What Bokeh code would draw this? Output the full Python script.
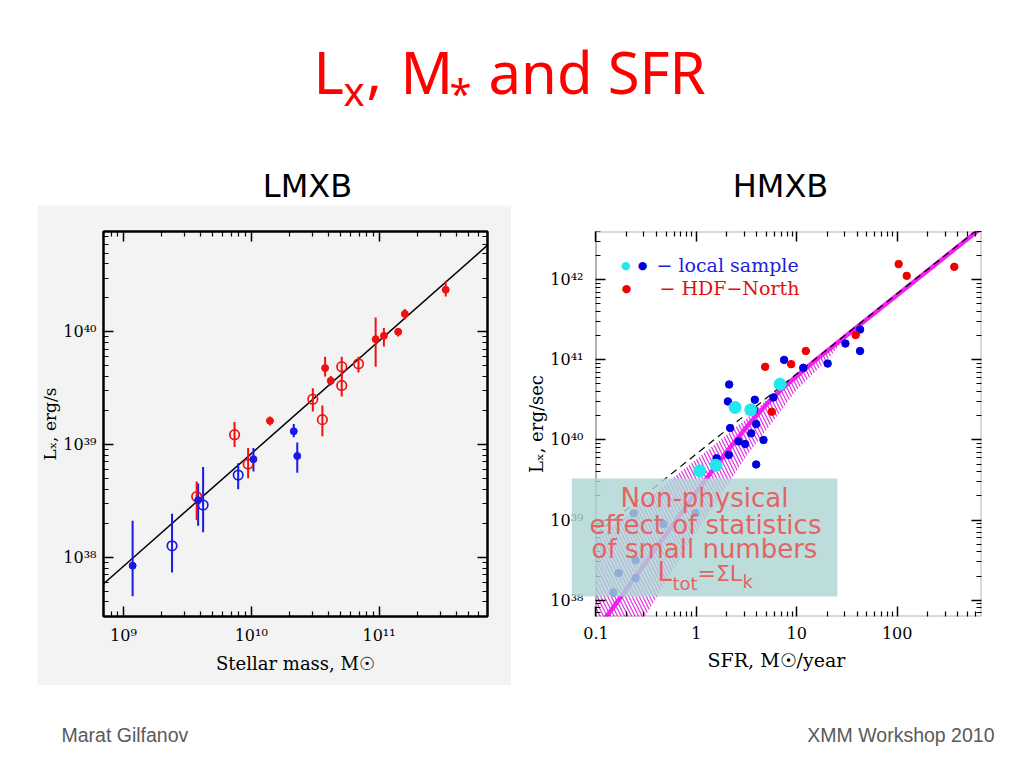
from bokeh.plotting import figure
from bokeh.models import (Range1d, FixedTicker, CustomJSTickFormatter, LogAxis,
                          Label, BoxAnnotation, Spacer)
from bokeh.layouts import column, row
from bokeh.embed import file_html
from bokeh.resources import INLINE

# ---------------- LMXB data (left panel) ----------------
# blue filled
bf_mass = [1.18e9, 3.84e9, 1.04e10, 2.15e10, 2.29e10]
bf_lx = [8.4e37, 3.2e38, 7.4e38, 1.31e39, 7.9e38]
bf_hi = [2.1e38, 4.5e38, 9.3e38, 1.52e39, 1.04e39]
bf_lo = [4.5e37, 1.9e38, 5.75e38, 1.16e39, 5.6e38]
# blue open
bo_mass = [2.4e9, 4.2e9, 7.9e9]
bo_lx = [1.26e38, 2.9e38, 5.35e38]
bo_hi = [2.43e38, 6.3e38, 6.8e38]
bo_lo = [7.3e37, 1.66e38, 4.0e38]
# red open
ro_mass = [3.74e9, 7.4e9, 9.45e9, 3.03e10, 3.6e10, 5.1e10, 5.1e10, 6.9e10]
ro_lx = [3.45e38, 1.22e39, 6.7e38, 2.52e39, 1.66e39, 4.9e39, 3.34e39, 5.2e39]
ro_hi = [4.7e38, 1.58e39, 9.3e38, 3.16e39, 2.22e39, 6.0e39, 4.15e39, 6.0e39]
ro_lo = [2.14e38, 9.5e38, 5.0e38, 1.96e39, 1.18e39, 4.0e39, 2.67e39, 4.35e39]
# red filled
rf_mass = [1.4e10, 3.78e10, 4.19e10, 9.4e10, 1.09e11, 1.41e11, 1.59e11, 3.32e11]
rf_lx = [1.62e39, 4.76e39, 3.67e39, 8.6e39, 9.2e39, 1.0e40, 1.44e40, 2.36e40]
rf_hi = [1.77e39, 6.0e39, 4.06e39, 1.34e40, 1.08e40, 1.08e40, 1.59e40, 2.84e40]
rf_lo = [1.47e39, 4.0e39, 3.34e39, 4.9e39, 7.4e39, 9.1e39, 1.29e40, 2.06e40]
# linear fit
fit_mass = [7.0e8, 7.1e11]
fit_lx = [5.8e37, 5.9e40]

# ---------------- HMXB data (right panel) ----------------
blue_sfr = [2.12, 2.06, 2.17, 2.10, 1.59, 2.63, 3.06, 3.52, 3.82, 3.76, 3.94, 3.94,
            4.66, 5.86, 7.48, 11.6, 20.3, 30.5, 42.7, 42.7,
            0.237, 0.471, 0.98, 0.248, 0.248, 0.168, 0.149]
blue_lx = [4.93e40, 3.03e40, 1.41e40, 6.5e39, 5.9e39, 9.6e39, 8.9e39, 1.21e40, 3.18e40,
           2.38e40, 1.58e40, 4.95e39, 1.0e40, 3.4e40, 1.0e41, 7.96e40, 9.0e40, 1.6e41,
           2.4e41, 1.29e41,
           1.22e39, 8.9e38, 1.22e39, 3.16e38, 1.88e38, 2.18e38, 1.25e38]
cyan_sfr = [1.08, 1.57, 2.43, 3.48, 6.82]
cyan_lx = [4.12e39, 4.85e39, 2.55e40, 2.38e40, 4.98e40]
red_sfr = [4.84, 5.64, 8.79, 12.3, 38.6, 103.5, 124.5, 370.7]
red_lx = [8.2e40, 2.25e40, 8.85e40, 1.29e41, 2.04e41, 1.57e42, 1.12e42, 1.45e42]
# linear relation (dashed)
lin_sfr = [0.1, 700.0]
lin_lx = [6.7e38, 4.69e42]
# non-linear expected relation (magenta)
curve_sfr = [0.112, 0.316, 1.0, 2.0, 3.16, 5.0, 7.9, 15.8, 39.8, 100.0, 708.0]
curve_lx = [5.0e37, 3.0e38, 2.24e39, 7.1e39, 1.45e40, 2.8e40, 4.9e40, 1.02e41,
            2.57e41, 6.46e41, 4.57e42]
# hatched band
band_sfr = [0.1, 0.316, 1.0, 3.16, 10.0, 20.0, 35.5]
band_hi = [5.75e38, 1.82e39, 5.75e39, 1.86e40, 6.9e40, 1.38e41, 2.34e41]
band_lo = [7.9e36, 6.6e37, 7.1e38, 6.3e39, 4.2e40, 1.0e41, 2.34e41]

x_ticks_left = [1e9, 1e10, 1e11]
y_ticks_left = [1e38, 1e39, 1e40]
x_ticks_right = [0.1, 1.0, 10.0, 100.0]
y_ticks_right = [1e38, 1e39, 1e40, 1e41, 1e42]

BLUE = "#1a1ae6"
RED = "#ee1111"
SERIF = "DejaVu Serif"


def minor_list(e0, e1, lo=0.0):
    return [k * 10.0 ** e for e in range(e0, e1 + 1) for k in range(2, 10)
            if k * 10.0 ** e > lo]


def mid(baseline, size):
    """vertical centre of a text line whose alphabetic baseline is given (page px)"""
    return baseline - 0.38 * size


SUP = CustomJSTickFormatter(code="""
const sup = {'0':'\u2070','1':'\u00b9','2':'\u00b2','3':'\u00b3','4':'\u2074','5':'\u2075',
             '6':'\u2076','7':'\u2077','8':'\u2078','9':'\u2079','-':'\u207b'};
const e = Math.round(Math.log10(tick));
return '10' + String(e).split('').map(c => sup[c]).join('');
""")
DEC = CustomJSTickFormatter(code="return tick < 1 ? tick.toFixed(1) : tick.toFixed(0);")
BLANK = CustomJSTickFormatter(code="return '';")


def style_axis(ax, ticker, fmt, show_labels=True, line=True, ticks=True):
    ax.ticker = ticker
    ax.formatter = fmt
    ax.major_tick_in = 10 if ticks else 0
    ax.major_tick_out = 0
    ax.minor_tick_in = 5 if ticks else 0
    ax.minor_tick_out = 0
    ax.major_tick_line_color = "black" if ticks else None
    ax.major_tick_line_width = 1.5
    ax.minor_tick_line_color = "black" if ticks else None
    ax.minor_tick_line_width = 1.2
    ax.axis_line_color = "black" if line else None
    ax.axis_line_width = 2
    ax.major_label_text_font = SERIF
    ax.major_label_text_color = "black"
    ax.axis_label_text_font = SERIF
    ax.axis_label_text_font_style = "normal"
    ax.axis_label_text_color = "black"
    ax.axis_label_text_font_size = "18px"
    if show_labels:
        ax.major_label_text_font_size = "16px"
    else:
        ax.major_label_text_font_size = "0px"
        ax.major_label_standoff = 0


# ---------------- header ----------------
head = figure(width=1024, height=205, x_range=Range1d(0, 1024), y_range=Range1d(205, 0),
              toolbar_location=None, output_backend="svg", min_border=0,
              x_axis_location=None, y_axis_location=None, outline_line_color=None)
head.grid.visible = False
TITLE_RED = "#ff0000"
for txt, x, base, size in [("L", 313, 93, 58), ("x", 343, 105, 40), (",", 366, 93, 58),
                           ("M", 400, 93, 58), ("*", 449, 107, 40),
                           ("and SFR", 488, 93, 58)]:
    head.add_layout(Label(x=x, y=mid(base, size), text=txt, text_font="Noto Sans",
                          text_font_size=f"{size}px", text_color=TITLE_RED,
                          text_baseline="middle", text_align="left"))
for txt, x in [("LMXB", 307), ("HMXB", 780)]:
    head.add_layout(Label(x=x, y=mid(198, 32), text=txt, text_font="DejaVu Sans",
                          text_font_size="32px", text_color="black",
                          text_baseline="middle", text_align="center"))

# ---------------- left: LMXB ----------------
GRAY = "#f3f3f3"
pl = figure(width=474, height=480, x_axis_type="log", y_axis_type="log",
            x_range=Range1d(10 ** 8.844, 10 ** 11.848), y_range=Range1d(10 ** 37.473, 10 ** 40.89),
            toolbar_location=None, output_backend="svg",
            min_border_left=63, min_border_right=24, min_border_top=26, min_border_bottom=68,
            background_fill_color=GRAY, border_fill_color=GRAY)
xt_l = FixedTicker(ticks=x_ticks_left, minor_ticks=minor_list(8, 11))
yt_l = FixedTicker(ticks=y_ticks_left, minor_ticks=minor_list(37, 40))
style_axis(pl.xaxis[0], xt_l, SUP)
style_axis(pl.yaxis[0], yt_l, SUP)
pl.xaxis[0].axis_label = "Stellar mass, M\u2609"
pl.yaxis[0].axis_label = "L\u2093, erg/s"
pl.yaxis[0].axis_label_text_font_size = "17px"
pl.yaxis[0].major_label_standoff = 7
pl.yaxis[0].axis_label_standoff = 0
pl.xaxis[0].major_label_standoff = 9
pl.xaxis[0].axis_label_standoff = 5
for side, t in [("above", xt_l), ("right", yt_l)]:
    ax = LogAxis()
    style_axis(ax, t, BLANK, False)
    pl.add_layout(ax, side)
pl.grid.visible = False
pl.outline_line_color = "black"
pl.outline_line_width = 2

pl.line(fit_mass, fit_lx, line_color="black", line_width=1.5)
pl.segment(x0=bf_mass, y0=bf_lo, x1=bf_mass, y1=bf_hi, line_color=BLUE, line_width=2)
pl.segment(x0=bo_mass, y0=bo_lo, x1=bo_mass, y1=bo_hi, line_color=BLUE, line_width=2)
pl.segment(x0=ro_mass, y0=ro_lo, x1=ro_mass, y1=ro_hi, line_color=RED, line_width=2)
pl.segment(x0=rf_mass, y0=rf_lo, x1=rf_mass, y1=rf_hi, line_color=RED, line_width=2)
pl.scatter(bo_mass, bo_lx, size=9.5, fill_color=None, line_color=BLUE, line_width=1.7)
pl.scatter(ro_mass, ro_lx, size=9.5, fill_color=None, line_color=RED, line_width=1.7)
pl.scatter(bf_mass, bf_lx, size=7, fill_color=BLUE, line_color=BLUE)
pl.scatter(rf_mass, rf_lx, size=7, fill_color=RED, line_color=RED)

# ---------------- right: HMXB ----------------
# the canvas frame spans page x 571..981 so that the grey-green note box can reach left of
# the visible axes box, which starts at SFR = 0.1 (page x 595)
RX0, RX1, RY0, RY1 = -1.244, 2.84, 37.796, 42.603
pr = figure(width=513, height=480, x_axis_type="log", y_axis_type="log",
            x_range=Range1d(10 ** RX0, 10 ** RX1), y_range=Range1d(10 ** RY0, 10 ** RY1),
            toolbar_location=None, output_backend="svg",
            min_border_left=60, min_border_right=43, min_border_top=26, min_border_bottom=69,
            background_fill_color="white", border_fill_color="white",
            outline_line_color=None)
VIS_X0 = 0.1
xt_r = FixedTicker(ticks=x_ticks_right, minor_ticks=minor_list(-2, 2, lo=0.1))
yt_r = FixedTicker(ticks=y_ticks_right, minor_ticks=minor_list(37, 42))
xax_r = pr.xaxis[0]
yax_r = pr.yaxis[0]
style_axis(xax_r, xt_r, DEC, line=False)
# labels-only y axis at the frame edge, labels pulled in to sit left of SFR = 0.1
style_axis(yax_r, yt_r, SUP, line=False, ticks=False)
yax_r.major_label_standoff = -12
yax_r.axis_label_standoff = 0
xax_r.axis_label = "SFR, M\u2609/year"
yax_r.axis_label = "L\u2093, erg/sec"
xax_r.axis_label_text_font_size = "19px"
yax_r.axis_label_text_font_size = "18px"
xax_r.major_label_standoff = 10
xax_r.axis_label_standoff = 7
# ticks-only y axis drawn at SFR = 0.1
tick_ax = LogAxis(fixed_location=VIS_X0)
style_axis(tick_ax, yt_r, BLANK, False, line=False)
pr.add_layout(tick_ax, "left")
for side, t in [("above", xt_r), ("right", yt_r)]:
    ax = LogAxis()
    style_axis(ax, t, BLANK, False, line=False)
    pr.add_layout(ax, side)
pr.grid.visible = False
# visible axes box
pr.add_layout(BoxAnnotation(left=VIS_X0, right=10 ** RX1, bottom=10 ** RY0, top=10 ** RY1,
                            fill_color=None, line_color="black", line_width=2))


def r_xy(px, py):
    """page pixel -> data position inside the right panel (for annotations)"""
    lx = -1.0 + (px - 595.5) / 100.4
    ly = RY1 - (py - 231) / 385.0 * (RY1 - RY0)
    return 10 ** lx, 10 ** ly


MAG = "#f020f0"
pr.varea(x=band_sfr, y1=band_lo, y2=band_hi, fill_color=None, hatch_pattern="\\",
         hatch_color="#e030e0", hatch_scale=7, hatch_weight=1.2)
pr.line(curve_sfr, curve_lx, line_color=MAG, line_width=4.5)
pr.line(lin_sfr, lin_lx, line_color="black", line_width=1.2, line_dash="7 5")
pr.scatter(blue_sfr, blue_lx, size=7.5, fill_color="#0000e0", line_color="#0000e0")
pr.scatter(red_sfr, red_lx, size=7.5, fill_color="#f00000", line_color="#f00000")
pr.scatter(cyan_sfr, cyan_lx, size=12, fill_color="#22e8ee", line_color="#22e8ee")

# legend
for ch, px, py, col in [("\u25cf", 625, 265, "#22e8ee"), ("\u25cf", 642, 265, "#0000e0"),
                        ("\u25cf", 626, 288, "#f00000")]:
    x, y = r_xy(px, py)
    pr.add_layout(Label(x=x, y=y, text=ch, text_font="DejaVu Sans", text_font_size="11px",
                        text_color=col, text_align="center", text_baseline="middle"))
for txt, px, py, col in [("\u2212 local sample", 656, 264, "#2020e0"),
                         ("\u2212 HDF\u2212North", 659, 287, "#e01010")]:
    x, y = r_xy(px, py)
    pr.add_layout(Label(x=x, y=y, text=txt, text_font=SERIF, text_font_size="19px",
                        text_color=col, text_align="left", text_baseline="middle"))

# overlay box (starts at the canvas frame's left edge, page x 571)
bx1, by1 = r_xy(837, 478)
_, by0 = r_xy(837, 596)
pr.add_layout(BoxAnnotation(left=None, right=bx1, bottom=by0, top=by1,
                            fill_color="#aed6d6", fill_alpha=0.82, line_color=None))
BOXTXT = "#e46464"
for txt, px, base in [("Non-physical", 704, 507), ("effect of statistics", 705, 534),
                      ("of small numbers", 704, 558)]:
    x, y = r_xy(px, mid(base, 26))
    pr.add_layout(Label(x=x, y=y, text=txt, text_font="DejaVu Sans", text_font_size="26px",
                        text_color=BOXTXT, text_align="center", text_baseline="middle"))
for txt, px, base, size in [("L", 657, 581, 26), ("tot", 672, 590, 18),
                            ("=\u03a3L", 697, 581, 22), ("k", 742, 588, 18)]:
    x, y = r_xy(px, mid(base, size))
    pr.add_layout(Label(x=x, y=y, text=txt, text_font="DejaVu Sans",
                        text_font_size=f"{size}px", text_color=BOXTXT,
                        text_align="left", text_baseline="middle"))

# ---------------- footer ----------------
foot = figure(width=1024, height=78, x_range=Range1d(0, 1024), y_range=Range1d(763, 685),
              toolbar_location=None, output_backend="svg", min_border=0,
              x_axis_location=None, y_axis_location=None, outline_line_color=None)
foot.grid.visible = False
foot.add_layout(Label(x=61, y=mid(742, 19.5), text="Marat Gilfanov", text_font="Liberation Sans",
                      text_font_size="19.5px", text_color="#5a5a5a", text_align="left",
                      text_baseline="middle"))
foot.add_layout(Label(x=994, y=mid(742, 19.5), text="XMM Workshop 2010",
                      text_font="Liberation Sans", text_font_size="19.5px",
                      text_color="#5a5a5a", text_align="right", text_baseline="middle"))

layout = column(head, row(Spacer(width=37, height=480), pl, pr), foot)
open("out.html", "w").write(file_html(layout, INLINE))
